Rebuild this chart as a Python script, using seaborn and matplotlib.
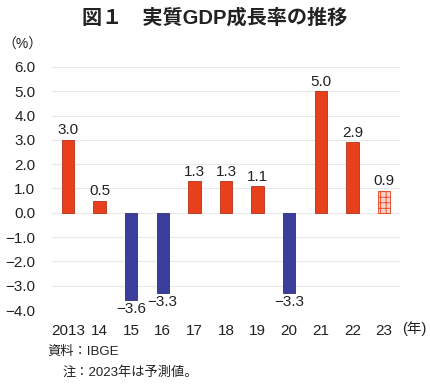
import matplotlib
matplotlib.use('Agg')
import matplotlib.pyplot as plt
import seaborn as sns
import pandas as pd

years = ['2013', '14', '15', '16', '17', '18', '19', '20', '21', '22', '23']
growth = [3.0, 0.5, -3.6, -3.3, 1.3, 1.3, 1.1, -3.3, 5.0, 2.9, 0.9]
yticks = [6.0, 5.0, 4.0, 3.0, 2.0, 1.0, 0.0, -1.0, -2.0, -3.0, -4.0]

RED = '#E8401C'
BLUE = '#3B3F9B'

sns.set_theme(style='white')
plt.rcParams['font.family'] = ['Liberation Sans', 'Noto Sans CJK JP', 'DejaVu Sans']
plt.rcParams['hatch.linewidth'] = 0.6

df = pd.DataFrame({'year': years, 'growth': growth})
colors = [RED if v >= 0 else BLUE for v in growth]

fig = plt.figure(figsize=(4.3, 3.91), dpi=100)
ax = fig.add_axes([0.121, 0.207, 0.809, 0.622])

sns.barplot(data=df, x='year', y='growth', hue='year', palette=colors,
            saturation=1, legend=False, width=0.39, ax=ax, zorder=3)

for p, c in zip(ax.patches, colors):
    p.set_edgecolor('#B8301A' if c == RED else '#2A2D7C')
    p.set_linewidth(0.6)
# 2023年は予測値 -> 網掛け
last = ax.patches[len(years) - 1]
last.set_facecolor('#FAD3CB')
last.set_edgecolor(RED)
last.set_hatch('+++')

for i, v in enumerate(growth):
    off = 0.1 if v >= 0 else -0.08
    ax.text(i, v + off, f'{v:.1f}'.replace('-', '\u2212'), ha='center',
            va='bottom' if v >= 0 else 'top', fontsize=11, color='#222222')

ax.set_ylim(-4, 6)
ax.set_xlim(-0.5, len(years) - 0.5)
ax.set_yticks(yticks)
ax.set_yticklabels([f'{t:.1f}'.replace('-', '\u2212') for t in yticks], fontsize=11)
ax.set_xticks(range(len(years)))
ax.set_xticklabels(years, fontsize=11)
ax.tick_params(axis='x', length=0, pad=10, colors='#222222')
ax.tick_params(axis='y', length=0, pad=12, colors='#222222')
ax.yaxis.grid(True, color='#E8E8E8', linewidth=0.8, zorder=0)
ax.set_axisbelow(True)
for s in ax.spines.values():
    s.set_visible(False)
ax.set_xlabel('')
ax.set_ylabel('')

fig.text(0.5, 0.955, '図１　実質GDP成長率の推移', ha='center', va='center',
         fontsize=14.5, fontweight='bold', color='#222222')
fig.text(0.005, 0.885, '（%）', ha='left', va='center', fontsize=10, color='#222222')
fig.text(0.935, 0.16, '(年)', ha='left', va='center', fontsize=10.5, color='#222222')
fig.text(0.11, 0.1, '資料：IBGE', ha='left', va='center', fontsize=9.5, color='#222222')
fig.text(0.145, 0.048, '注：2023年は予測値。', ha='left', va='center', fontsize=9.5, color='#222222')

fig.savefig('out.png', dpi=100)
